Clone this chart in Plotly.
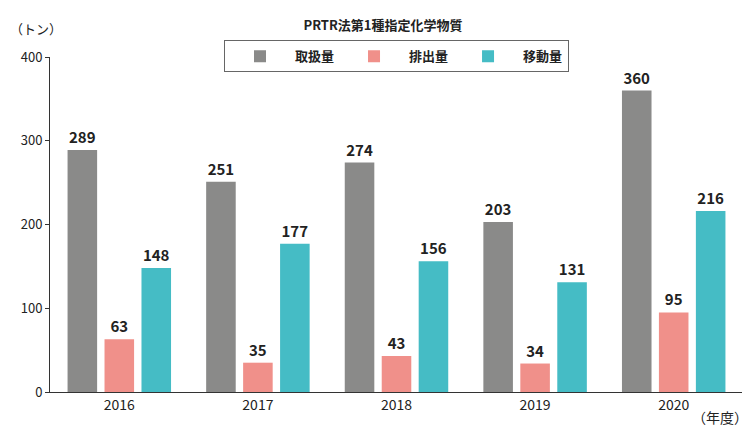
import plotly.graph_objects as go

years = ["2016", "2017", "2018", "2019", "2020"]
handled = [289, 251, 274, 203, 360]
released = [63, 35, 43, 34, 95]
transferred = [148, 177, 156, 131, 216]
series_names = ["取扱量", "排出量", "移動量"]
colors = ["#8a8a89", "#f0908a", "#45bcc5"]

F = "Noto Sans CJK JP"
fig = go.Figure()
for name, vals, c in zip(series_names, [handled, released, transferred], colors):
    fig.add_bar(x=years, y=vals, name="<b>" + name + "</b>", marker_color=c, marker_line_width=0,
                text=["<b>%d</b>" % v for v in vals], textposition="outside",
                textfont=dict(family=F, size=15, color="#222"), cliponaxis=False)

fig.update_layout(
    width=750, height=432, paper_bgcolor="white", plot_bgcolor="white",
    margin=dict(l=42, r=15, t=49, b=48, autoexpand=False),
    barmode="group", bargap=0.2, bargroupgap=0.2,
    font=dict(family=F, size=13, color="#222"),
    title=dict(text="<b>PRTR法第1種指定化学物質</b>", x=0.5, xanchor="center", y=0.96, yanchor="middle",
               font=dict(size=13)),
    legend=dict(orientation="h", x=0.5, xanchor="center", y=1.05, yanchor="top",
                bordercolor="#666", borderwidth=1, font=dict(size=13), itemwidth=60,
                bgcolor="white"),
    xaxis=dict(showline=True, linecolor="#333", ticks="", tickfont=dict(size=14)),
    yaxis=dict(range=[0, 400], dtick=100, showgrid=False, showline=True, linecolor="#333",
               ticks="outside", ticklen=4, tickcolor="#333", tickfont=dict(size=13)),
    annotations=[
        dict(text="（トン）", xref="paper", yref="paper", x=-0.06, y=1.05, xanchor="left",
             yanchor="bottom", showarrow=False, font=dict(size=13)),
        dict(text="（年度）", xref="paper", yref="paper", x=1.01, y=-0.04, xanchor="right",
             yanchor="top", showarrow=False, font=dict(size=14)),
    ],
)
fig.write_html("out.html")
